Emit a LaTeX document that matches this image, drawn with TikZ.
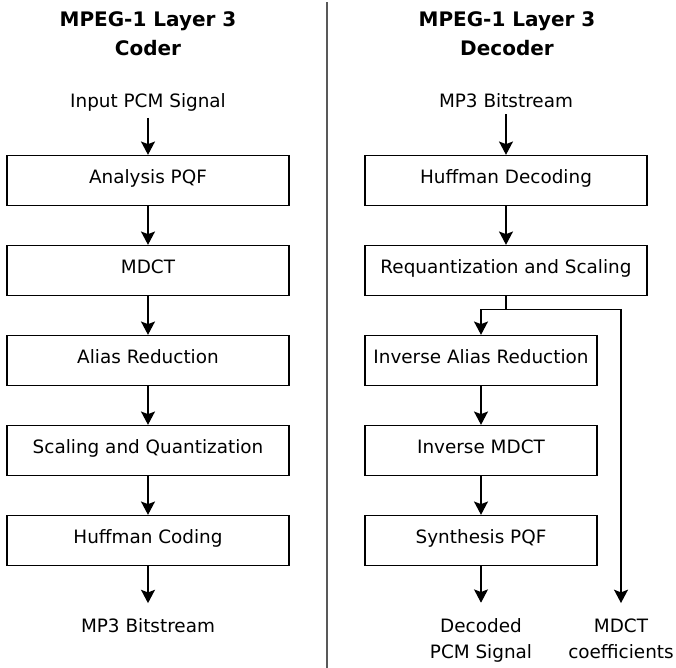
\documentclass[tikz,border=0pt]{standalone}
\usepackage{fontspec}
\setmainfont{DejaVu Sans}
\usetikzlibrary{arrows.meta}
\begin{document}
\begin{tikzpicture}[x=0.75pt,y=-0.75pt,
  box/.style={draw, line width=1pt, minimum width=211.5pt, minimum height=37.5pt, inner sep=0pt,
    text height=9pt, text depth=4pt, font=\fontsize{13.8}{16}\selectfont},
  narrowbox/.style={box, minimum width=174pt},
  lbltop/.style={font=\fontsize{13.8}{19.5}\selectfont, align=center, inner xsep=2pt, inner ysep=4.6pt},
  lblbot/.style={font=\fontsize{13.8}{19.5}\selectfont, align=center, inner xsep=2pt, inner ysep=11.5pt},
  head/.style={font=\fontsize{15}{21.2}\bfseries\selectfont, align=center},
  arr/.style={-{Stealth[length=10pt,width=10.5pt,inset=2pt]}, line width=1.1pt},
  ln/.style={line width=1.1pt},
  divider/.style={line width=1.5pt, color=black!65}]
\useasboundingbox (0,0) rectangle (676,668);

% headers
\node[head, anchor=base] (hl) at (148,55) {MPEG-1 Layer 3\\Coder};
\node[head, anchor=base] (hr) at (507,55) {MPEG-1 Layer 3\\Decoder};

% divider
\coordinate (dtop) at (326.7,2);
\coordinate (dbot) at (326.7,668);
\draw[divider] (dtop) -- (dbot);

% coder
\node[lbltop, anchor=base] (lin) at (148,107.7) {Input PCM Signal};
\node[box] (l1) at (148,180.5) {Analysis PQF};
\node[box] (l2) at (148,270.5) {MDCT};
\node[box] (l3) at (148,360.5) {Alias Reduction};
\node[box] (l4) at (148,450.5) {Scaling and Quantization};
\node[box] (l5) at (148,540.5) {Huffman Coding};
\node[lblbot, anchor=base] (lout) at (148,632.7) {MP3 Bitstream};

\draw[arr] (lin) -- (l1);
\draw[arr] (l1) -- (l2);
\draw[arr] (l2) -- (l3);
\draw[arr] (l3) -- (l4);
\draw[arr] (l4) -- (l5);
\draw[arr] (l5) -- (lout);

% decoder
\node[lbltop, anchor=base] (rin) at (506,107.7) {MP3 Bitstream};
\node[box] (r1) at (506,180.5) {Huffman Decoding};
\node[box] (r2) at (506,270.5) {Requantization and Scaling};
\node[narrowbox] (r3) at (481,360.5) {Inverse Alias Reduction};
\node[narrowbox] (r4) at (481,450.5) {Inverse MDCT};
\node[narrowbox] (r5) at (481,540.5) {Synthesis PQF};
\node[lblbot, anchor=base] (dec) at (481,658.3) {Decoded\\PCM Signal};
\node[lblbot, anchor=base] (mdct) at (621,658.3) {MDCT\\coefficients};

\coordinate (bj) at (506,309.3);
\coordinate (bl) at (481,309.3);
\coordinate (br) at (621,309.3);

\draw[arr] (rin) -- (r1);
\draw[arr] (r1) -- (r2);
\draw[ln] (r2.south) -- (bj);
\draw[arr] (bj) -- (bl) -- (r3.north);
\draw[arr] (bj) -- (br) -- (mdct.north);
\draw[arr] (r3) -- (r4);
\draw[arr] (r4) -- (r5);
\draw[arr] (r5.south) -- (dec.north);
\end{tikzpicture}
\end{document}
